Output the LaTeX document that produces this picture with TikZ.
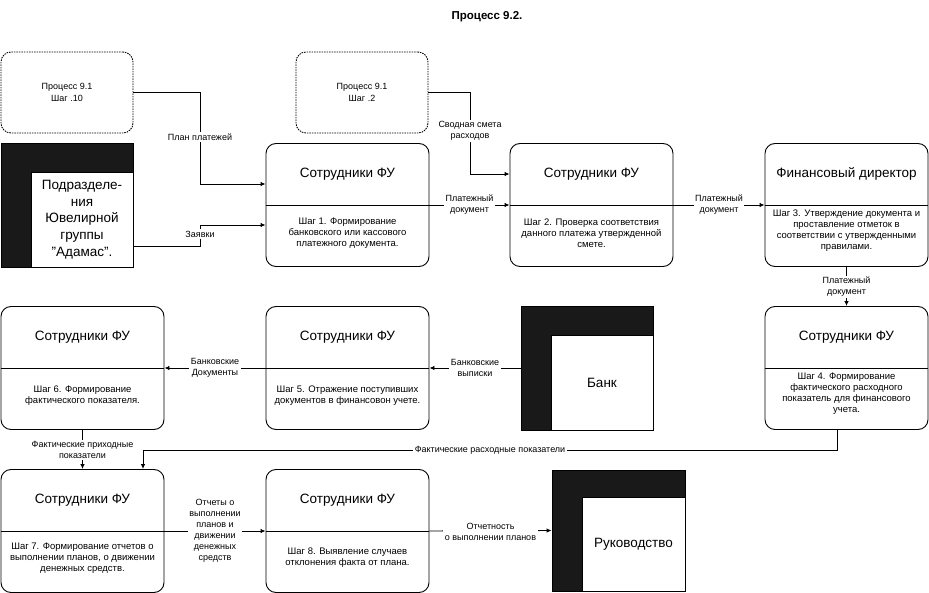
\documentclass[tikz,border=0pt]{standalone}
\usepackage{fontspec}
\setmainfont{Liberation Sans}
\usetikzlibrary{arrows.meta}

\tikzset{
  proc/.style={draw, rounded corners=10pt, minimum width=163pt, minimum height=123pt, inner sep=0pt},
  ext/.style={draw, fill=black!90, minimum width=132pt, minimum height=124pt, inner sep=0pt},
  extin/.style={draw, fill=white, anchor=south east, minimum width=102pt, minimum height=95pt, inner sep=0pt,
    align=center, font=\fontsize{13.5}{16.7}\selectfont},
  prev/.style={draw, dash pattern=on 1.5pt off 1pt, rounded corners=10pt, minimum width=132pt, minimum height=81pt,
    align=center, font=\fontsize{9}{11.5}\selectfont},
  head/.style={font=\fontsize{13.5}{16}\selectfont},
  body/.style={align=center, font=\fontsize{9.5}{11}\selectfont},
  lbl/.style={fill=white, align=center, inner sep=1.5pt, font=\fontsize{9}{11}\selectfont},
  flow/.style={-{Latex[length=5pt,width=4.5pt]}},
}

\begin{document}
\begin{tikzpicture}[x=1pt, y=-1pt, line width=0.9pt]
\useasboundingbox (0,0) rectangle (929,593);

% title
\node[font=\fontsize{11.5}{13}\selectfont\bfseries] (title) at (487,17) {Процесс 9.2.};

% previous process steps
\node[prev] (prev1) at (67,92.5) {Процесс 9.1\\Шаг .10};
\node[prev] (prev2) at (362,92.5) {Процесс 9.1\\Шаг .2};

% external entities
\node[ext] (dep) at (67,205) {};
\node[extin] (depin) at (dep.south east) {Подразделе-\\ния\\Ювелирной\\группы\\\symbol{34}Адамас\symbol{34}.};
\node[ext] (bank) at (587,368) {};
\node[extin] (bankin) at (bank.south east) {Банк};
\node[ext, minimum width=133pt, minimum height=121pt] (boss) at (618.5,530.5) {};
\node[extin, minimum width=103pt, minimum height=94pt] (bossin) at (boss.south east) {Руководство};

% process steps
\node[proc] (s1) at (347.5,205) {};
\draw (s1.west) -- (s1.east);
\node[head] (s1h) at (347.5,174) {Сотрудники ФУ};
\node[body] (s1b) at (347.5,233) {Шаг 1. Формирование\\банковского или кассового\\платежного документа.};

\node[proc] (s2) at (591.5,205) {};
\draw (s2.west) -- (s2.east);
\node[head] (s2h) at (591.5,174) {Сотрудники ФУ};
\node[body] (s2b) at (591.5,233) {Шаг 2. Проверка соответствия\\данного платежа утвержденной\\смете.};

\node[proc] (s3) at (846.5,205) {};
\draw (s3.west) -- (s3.east);
\node[head] (s3h) at (846.5,174) {Финансовый директор};
\node[body] (s3b) at (846.5,231) {Шаг 3. Утверждение документа и\\проставление отметок в\\соответствии с утвержденными\\правилами.};

\node[proc] (s4) at (846.5,368) {};
\draw (s4.west) -- (s4.east);
\node[head] (s4h) at (846.5,337) {Сотрудники ФУ};
\node[body] (s4b) at (846.5,394) {Шаг 4. Формирование\\фактического расходного\\показатель для финансового\\учета.};

\node[proc] (s5) at (347.5,368) {};
\draw (s5.west) -- (s5.east);
\node[head] (s5h) at (347.5,337) {Сотрудники ФУ};
\node[body] (s5b) at (347.5,396) {Шаг 5. Отражение поступивших\\документов в финансовон учете.};

\node[proc] (s6) at (82.5,368) {};
\draw (s6.west) -- (s6.east);
\node[head] (s6h) at (82.5,337) {Сотрудники ФУ};
\node[body] (s6b) at (82.5,396) {Шаг 6. Формирование\\фактического показателя.};

\node[proc] (s7) at (82.5,531) {};
\draw (s7.west) -- (s7.east);
\node[head] (s7h) at (82.5,500) {Сотрудники ФУ};
\node[body] (s7b) at (82.5,558) {Шаг 7. Формирование отчетов о\\выполнении планов, о движении\\денежных средств.};

\node[proc] (s8) at (347.5,531) {};
\draw (s8.west) -- (s8.east);
\node[head] (s8h) at (347.5,500) {Сотрудники ФУ};
\node[body] (s8b) at (347.5,558) {Шаг 8. Выявление случаев\\отклонения факта от плана.};

% flows
\coordinate (k1) at (200,184);
\coordinate (k2) at (200,225);
\coordinate (k3) at (470,174);
\coordinate (k4) at (143,450);
\draw[flow] (prev1.east) -| (k1) -- (k1 -| s1.west);
\draw[flow] ([yshift=-41pt]dep.east) -| (k2) -- (k2 -| s1.west);
\draw[flow] (prev2.east) -| (k3) -- (k3 -| s2.west);
\draw[flow] (s1.east) -- (s2.west);
\draw[flow] (s2.east) -- (s3.west);
\draw[flow] (s3.south) -- (s4.north);
\draw[flow] (bank.west) -- (s5.east);
\draw[flow] (s5.west) -- (s6.east);
\draw[flow] (s6.south) -- (s7.north);
\draw[flow] ([xshift=-9.5pt]s4.south) |- (k4) -- (k4 |- s7.north);
\draw[flow] (s7.east) -- (s8.west);
\draw[flow] (s8.east) -- (boss.west);

% flow labels
\node[lbl] (f1) at (200,137) {План платежей};
\node[lbl] (f2) at (200,234) {Заявки};
\node[lbl] (f3) at (470,131) {Сводная смета\\расходов};
\node[lbl] (f4) at (469.5,205) {Платежный\\документ};
\node[lbl] (f5) at (719,205) {Платежный\\документ};
\node[lbl] (f6) at (846.5,287) {Платежный\\документ};
\node[lbl] (f7) at (475,368) {Банковские\\выписки};
\node[lbl] (f8) at (215,368) {Банковские\\Документы};
\node[lbl] (f9) at (82.5,450) {Фактические приходные\\показатели};
\node[lbl] (f10) at (490,450) {Фактические расходные показатели};
\node[lbl] (f11) at (215,531) {Отчеты о\\выполнении\\планов и\\движении\\денежных\\средств};
\node[lbl] (f12) at (490.5,532) {Отчетность\\о выполнении планов};
\end{tikzpicture}
\end{document}
